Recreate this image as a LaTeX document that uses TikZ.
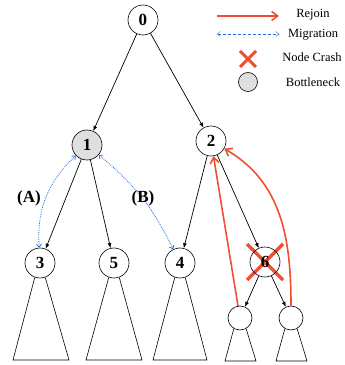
\documentclass[tikz,border=0pt]{standalone}
\usepackage{fontspec}
\setmainfont{Liberation Serif}
\usetikzlibrary{arrows.meta,positioning}
\definecolor{rojo}{RGB}{240,80,50}
\definecolor{azul}{RGB}{40,110,220}
\tikzset{
  nodo/.style={circle,draw,line width=0.6pt,minimum size=30pt,inner sep=0pt,font=\fontsize{17}{17}\selectfont\bfseries},
  hoja/.style={circle,draw,line width=0.6pt,minimum size=24pt,inner sep=0pt},
  arista/.style={-{Latex[length=5pt,width=4pt]},line width=0.7pt},
  rejoin/.style={-{Straight Barb[length=6pt,width=9pt]},rojo,line width=1.6pt},
  migra/.style={{Straight Barb[length=3pt,width=5pt]}-{Straight Barb[length=3pt,width=5pt]},azul,densely dotted,thick},
  cruz/.style={rojo,line width=3.5pt},
  leyenda/.style={font=\fontsize{12.5}{12.5}\selectfont},
  etiqueta/.style={font=\fontsize{17}{17}\selectfont\bfseries}
}
\begin{document}
\begin{tikzpicture}[x=1pt,y=1pt]
  \useasboundingbox (0,0) rectangle (345,365);
  % Caida del nodo 6 (debajo del texto)
  \coordinate (p6) at (265,103);
  \draw[cruz] (p6) ++(-18,-18) -- ++(36,36);
  \draw[cruz] (p6) ++(-18,18) -- ++(36,-36);
  % Nodos
  \node[nodo] (n0) at (143,345) {0};
  \node[nodo,fill=gray!25] (n1) at (87,220) {1};
  \node[nodo] (n2) at (211,224) {2};
  \node[nodo] (n3) at (40,102) {3};
  \node[nodo] (n5) at (114,102) {5};
  \node[nodo] (n4) at (180,102) {4};
  \node[nodo] (n6) at (p6) {6};
  \node[hoja] (c1) at (240,47) {};
  \node[hoja] (c2) at (291,47) {};
  % Subarboles
  \foreach \n/\a/\b in {n3/13/69, n5/86/142, n4/153/207}
    \draw[line width=0.6pt] (\n.-110) -- (\a,5) -- (\b,5) -- (\n.-70);
  \foreach \n/\a/\b in {c1/225/256, c2/276/307}
    \draw[line width=0.6pt] (\n.-120) -- (\a,4) -- (\b,4) -- (\n.-60);
  % Aristas
  \foreach \p/\h in {n0/n1, n0/n2, n1/n3, n1/n5, n2/n4, n2/n6, n6/c1, n6/c2}
    \draw[arista] (\p) -- (\h);
  % Migracion
  \draw[migra] (n1) to[bend right=25] (n3);
  \draw[migra] (n1) to[bend left=12] (n4);
  \node[etiqueta] (lA) at (29,167) {(A)};
  \node[etiqueta] (lB) at (143,167) {(B)};
  % Rejoin
  \draw[rejoin] (c1) -- (n2);
  \draw[rejoin] (c2) to[out=90,in=-30] (n2);
  % Leyenda
  \coordinate (r0) at (217,349);
  \coordinate (r1) at (279,349);
  \draw[rejoin] (r0) -- (r1);
  \node[leyenda] (tR) at (313,350) {Rejoin};
  \coordinate (m0) at (217,331);
  \coordinate (m1) at (279,331);
  \draw[migra,thin,densely dashed] (m0) -- (m1);
  \node[leyenda] (tM) at (313,330) {Migration};
  \coordinate (x0) at (248,306);
  \draw[rojo,line width=3pt] (x0) ++(-8,-8) -- ++(16,16) (x0) ++(-8,8) -- ++(16,-16);
  \node[leyenda] (tX) at (312,308) {Node Crash};
  \node[circle,draw,line width=0.6pt,fill=gray!25,minimum size=19pt] (bB) at (248,283) {};
  \node[leyenda] (tB) at (313,283) {Bottleneck};
\end{tikzpicture}
\end{document}
